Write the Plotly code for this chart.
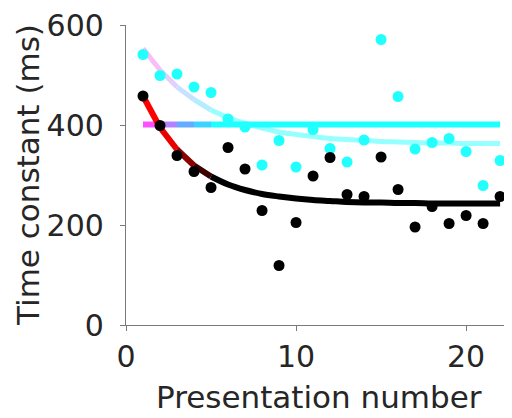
import plotly.graph_objects as go

# Data
presentation = list(range(1, 23))
cyan_values = [541, 499, 502, 476, 465, 412, 396, 320, 369, 316, 391,
               353, 326, 370, 571, 457, 352, 365, 373, 347, 279, 329]
black_values = [458, 399, 339, 307, 275, 355, 312, 229, 119, 205, 298,
                335, 261, 257, 336, 271, 196, 237, 203, 219, 203, 257]
# fitted curves at each presentation number
cyan_fit = [553, 510, 476, 451, 430, 415, 403, 394, 386, 381, 377,
            373, 371, 369, 367, 366, 365, 364, 364, 363, 363, 363]
black_fit = [458, 395, 351, 319, 297, 281, 270, 262, 257, 253, 250,
             248, 246, 245, 245, 244, 244, 243, 243, 243, 243, 243]
level_value = 401
x_ticks = [0, 10, 20]
y_ticks = [0, 200, 400, 600]

TEXT = "#262626"
AX = "#7a7a7a"
FONT = "DejaVu Sans"

fig = go.Figure()

breaks = [0, 1, 2, 3, 4, len(presentation) - 1]


def add_segments(values, colors, width):
    for i, col in enumerate(colors):
        a, b = breaks[i], breaks[i + 1]
        fig.add_trace(go.Scatter(
            x=presentation[a:b + 1], y=values[a:b + 1], mode="lines",
            line=dict(color=col, width=width, shape="spline"),
            hoverinfo="skip", showlegend=False))


# light cyan fitted curve (pink -> cyan)
add_segments(cyan_fit,
             ["rgb(248,190,248)", "rgb(225,208,255)", "rgb(200,225,255)",
              "rgb(178,238,255)", "rgb(150,255,255)"], 5)

# horizontal level line (magenta -> cyan)
level = [level_value] * len(presentation)
add_segments(level,
             ["rgb(255,80,255)", "rgb(180,130,255)", "rgb(100,172,255)",
              "rgb(60,212,255)", "rgb(30,255,255)"], 6)

# black fitted curve (red -> black)
add_segments(black_fit,
             ["rgb(255,0,0)", "rgb(235,0,0)", "rgb(140,0,0)",
              "rgb(60,0,0)", "rgb(0,0,0)"], 6)

fig.add_trace(go.Scatter(
    x=presentation, y=cyan_values, mode="markers",
    marker=dict(color="rgb(34,255,255)", size=11, line=dict(width=0)),
    showlegend=False))
fig.add_trace(go.Scatter(
    x=presentation, y=black_values, mode="markers",
    marker=dict(color="black", size=11, line=dict(width=0)),
    showlegend=False))

fig.update_layout(
    width=504, height=410,
    margin=dict(l=118, r=0, t=17, b=93),
    plot_bgcolor="white", paper_bgcolor="white",
    font=dict(family=FONT, color=TEXT, size=30),
    showlegend=False,
    annotations=[
        dict(text="Presentation number", xref="paper", yref="paper",
             x=0.5, y=-0.173, xanchor="center", yanchor="top", showarrow=False,
             font=dict(size=31, color=TEXT, family=FONT)),
        dict(text="Time constant (ms)", xref="paper", yref="paper",
             x=-0.254, y=0.5, xanchor="center", yanchor="middle", showarrow=False,
             textangle=-90, font=dict(size=31, color=TEXT, family=FONT)),
    ],
)
fig.update_xaxes(
    range=[0, 22.7], tickvals=x_ticks, ticktext=[str(v) for v in x_ticks],
    showline=True, linecolor=AX, linewidth=1.3, showgrid=False, zeroline=False,
    ticks="outside", ticklen=5, tickcolor=AX, tickwidth=1.3, automargin=False,
    tickfont=dict(size=30, color=TEXT, family=FONT), ticklabeloverflow="allow",
)
fig.update_yaxes(
    range=[0, 600], tickvals=y_ticks, ticktext=[str(v) for v in y_ticks],
    showline=True, linecolor=AX, linewidth=1.3, showgrid=False, zeroline=False,
    ticks="outside", ticklen=5, tickcolor=AX, tickwidth=1.3, automargin=False,
    tickfont=dict(size=30, color=TEXT, family=FONT), ticklabeloverflow="allow",
    ticklabelstandoff=10,
)

fig.write_html("out.html")
